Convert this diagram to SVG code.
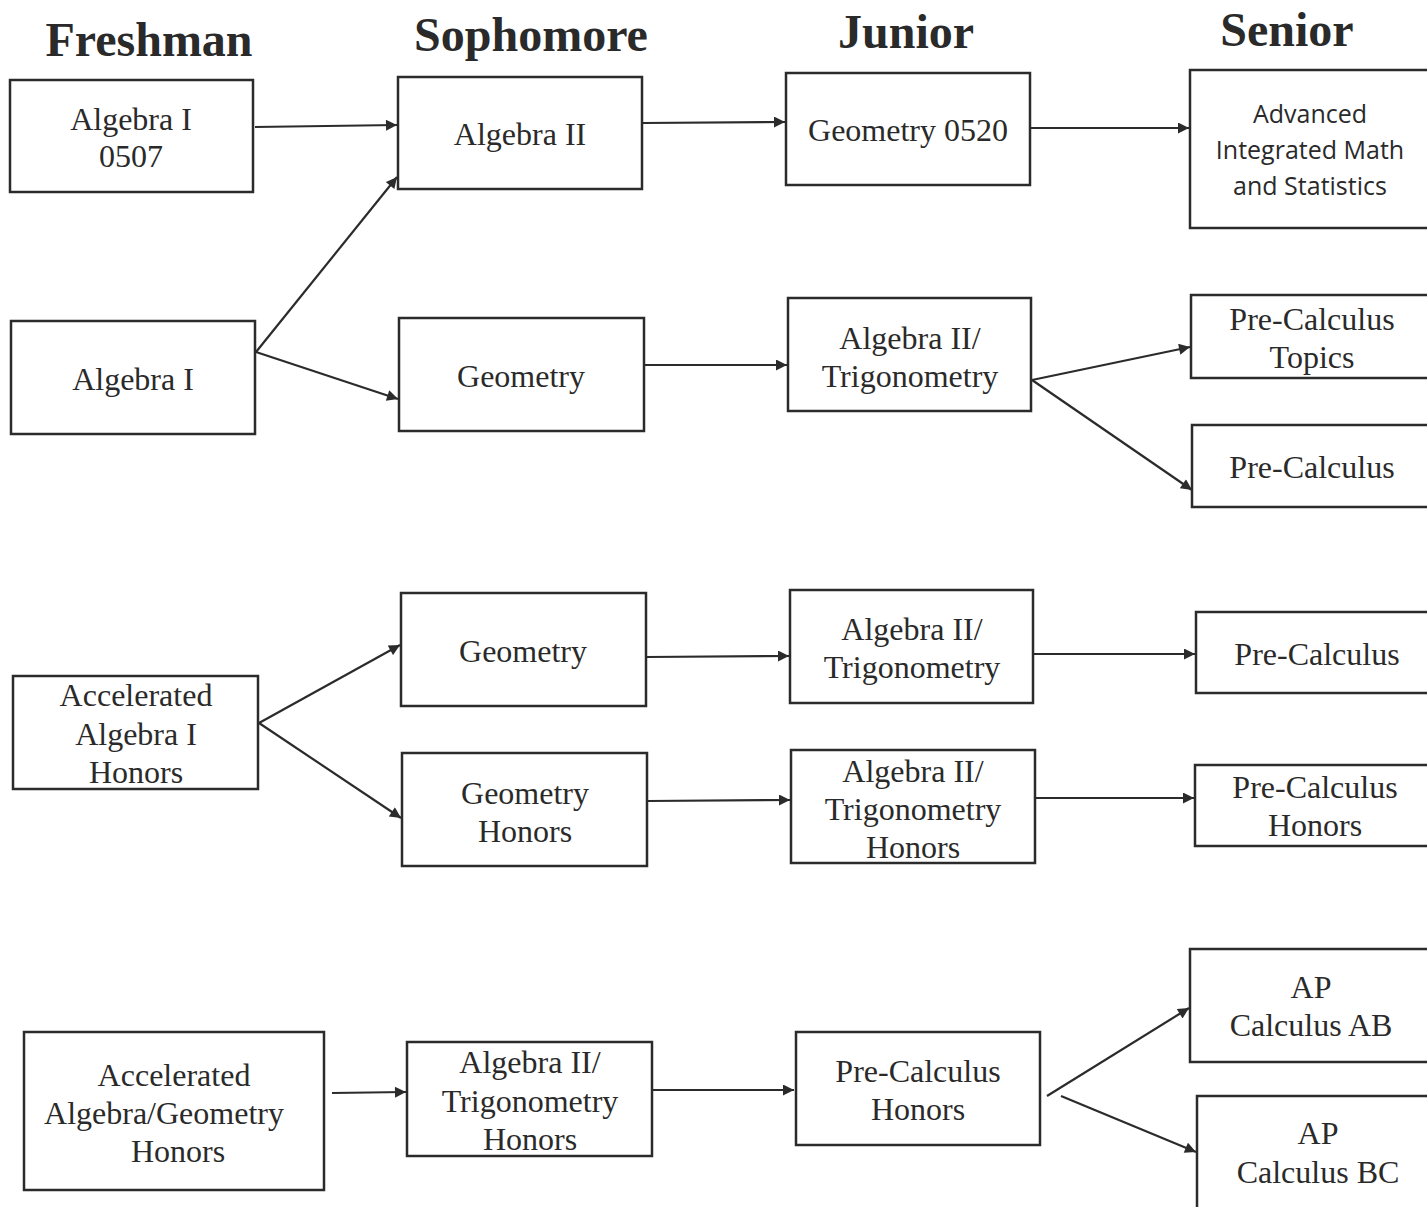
<svg xmlns="http://www.w3.org/2000/svg" width="1427" height="1207" viewBox="0 0 1427 1207">
<style>
.box{fill:#fff;stroke:#2b2b2b;stroke-width:2.5}
.t{font-family:"Liberation Serif","Times New Roman",serif;font-size:32px;fill:#2a2a2a;text-anchor:middle}
.s{font-family:"Open Sans","Liberation Sans",sans-serif;font-size:25px;fill:#2a2a2a;text-anchor:middle}
.h{font-family:"Liberation Serif","Times New Roman",serif;font-size:48px;font-weight:bold;fill:#2a2a2a;text-anchor:middle}
.c{stroke:#2b2b2b;stroke-width:2.2;fill:none;marker-end:url(#ah)}
</style>
<defs>
<marker id="ah" viewBox="0 0 10 10" refX="10" refY="5" markerWidth="6" markerHeight="5" markerUnits="strokeWidth" orient="auto">
<path d="M0,0 L10,5 L0,10 z" fill="#2b2b2b"/>
</marker>
</defs>
<rect width="1427" height="1207" fill="#fff"/>
<g id="headers">
<text class="h" x="149" y="56">Freshman</text>
<text class="h" x="531" y="51">Sophomore</text>
<text class="h" x="906" y="48">Junior</text>
<text class="h" x="1287" y="46">Senior</text>
</g>
<g id="connectors">
<line class="c" x1="255" y1="127" x2="397" y2="125"/>
<line class="c" x1="643" y1="123" x2="785" y2="122"/>
<line class="c" x1="1031" y1="128" x2="1189" y2="128"/>
<line class="c" x1="256" y1="352" x2="397" y2="177"/>
<line class="c" x1="256" y1="352" x2="398" y2="399"/>
<line class="c" x1="645" y1="365" x2="787" y2="365"/>
<line class="c" x1="1032" y1="380" x2="1190" y2="347"/>
<line class="c" x1="1032" y1="380" x2="1192" y2="490"/>
<line class="c" x1="259" y1="723" x2="400" y2="645"/>
<line class="c" x1="259" y1="723" x2="401" y2="818"/>
<line class="c" x1="647" y1="657" x2="789" y2="656"/>
<line class="c" x1="1034" y1="654" x2="1195" y2="654"/>
<line class="c" x1="648" y1="801" x2="790" y2="800"/>
<line class="c" x1="1036" y1="798" x2="1194" y2="798"/>
<line class="c" x1="332" y1="1093" x2="406" y2="1092"/>
<line class="c" x1="653" y1="1090" x2="794" y2="1090"/>
<line class="c" x1="1047" y1="1096" x2="1189" y2="1008"/>
<line class="c" x1="1061" y1="1096" x2="1196" y2="1152"/>
</g>
<g id="n1"><rect class="box" x="10" y="80" width="243" height="112"/><text class="t" x="131" y="130">Algebra I</text><text class="t" x="131" y="167">0507</text></g>
<g id="n2"><rect class="box" x="398" y="77" width="244" height="112"/><text class="t" x="520" y="145">Algebra II</text></g>
<g id="n3"><rect class="box" x="786" y="73" width="244" height="112"/><text class="t" x="908" y="141">Geometry 0520</text></g>
<g id="n4"><rect class="box" x="1190" y="70" width="245" height="158"/><text class="s" x="1310" y="123">Advanced</text><text class="s" x="1310" y="159">Integrated Math</text><text class="s" x="1310" y="195">and Statistics</text></g>
<g id="n5"><rect class="box" x="11" y="321" width="244" height="113"/><text class="t" x="133" y="390">Algebra I</text></g>
<g id="n6"><rect class="box" x="399" y="318" width="245" height="113"/><text class="t" x="521" y="387">Geometry</text></g>
<g id="n7"><rect class="box" x="788" y="298" width="243" height="113"/><text class="t" x="910" y="349">Algebra II/</text><text class="t" x="910" y="387">Trigonometry</text></g>
<g id="n8"><rect class="box" x="1191" y="295" width="245" height="83"/><text class="t" x="1312" y="330">Pre-Calculus</text><text class="t" x="1312" y="368">Topics</text></g>
<g id="n9"><rect class="box" x="1192" y="425" width="245" height="82"/><text class="t" x="1312" y="478">Pre-Calculus</text></g>
<g id="n10"><rect class="box" x="13" y="676" width="245" height="113"/><text class="t" x="136" y="706">Accelerated</text><text class="t" x="136" y="745">Algebra I</text><text class="t" x="136" y="783">Honors</text></g>
<g id="n11"><rect class="box" x="401" y="593" width="245" height="113"/><text class="t" x="523" y="662">Geometry</text></g>
<g id="n12"><rect class="box" x="402" y="753" width="245" height="113"/><text class="t" x="525" y="804">Geometry</text><text class="t" x="525" y="842">Honors</text></g>
<g id="n13"><rect class="box" x="790" y="590" width="243" height="113"/><text class="t" x="912" y="640">Algebra II/</text><text class="t" x="912" y="678">Trigonometry</text></g>
<g id="n14"><rect class="box" x="791" y="750" width="244" height="113"/><text class="t" x="913" y="782">Algebra II/</text><text class="t" x="913" y="820">Trigonometry</text><text class="t" x="913" y="858">Honors</text></g>
<g id="n15"><rect class="box" x="1196" y="612" width="240" height="81"/><text class="t" x="1317" y="665">Pre-Calculus</text></g>
<g id="n16"><rect class="box" x="1195" y="765" width="241" height="81"/><text class="t" x="1315" y="798">Pre-Calculus</text><text class="t" x="1315" y="836">Honors</text></g>
<g id="n17"><rect class="box" x="24" y="1032" width="300" height="158"/><text class="t" x="174" y="1086">Accelerated</text><text class="t" x="164" y="1124">Algebra/Geometry</text><text class="t" x="178" y="1162">Honors</text></g>
<g id="n18"><rect class="box" x="407" y="1042" width="245" height="114"/><text class="t" x="530" y="1073">Algebra II/</text><text class="t" x="530" y="1112">Trigonometry</text><text class="t" x="530" y="1150">Honors</text></g>
<g id="n19"><rect class="box" x="796" y="1032" width="244" height="113"/><text class="t" x="918" y="1082">Pre-Calculus</text><text class="t" x="918" y="1120">Honors</text></g>
<g id="n20"><rect class="box" x="1190" y="949" width="246" height="113"/><text class="t" x="1311" y="998">AP</text><text class="t" x="1311" y="1036">Calculus AB</text></g>
<g id="n21"><rect class="box" x="1197" y="1096" width="240" height="120"/><text class="t" x="1318" y="1144">AP</text><text class="t" x="1318" y="1183">Calculus BC</text></g>
</svg>
